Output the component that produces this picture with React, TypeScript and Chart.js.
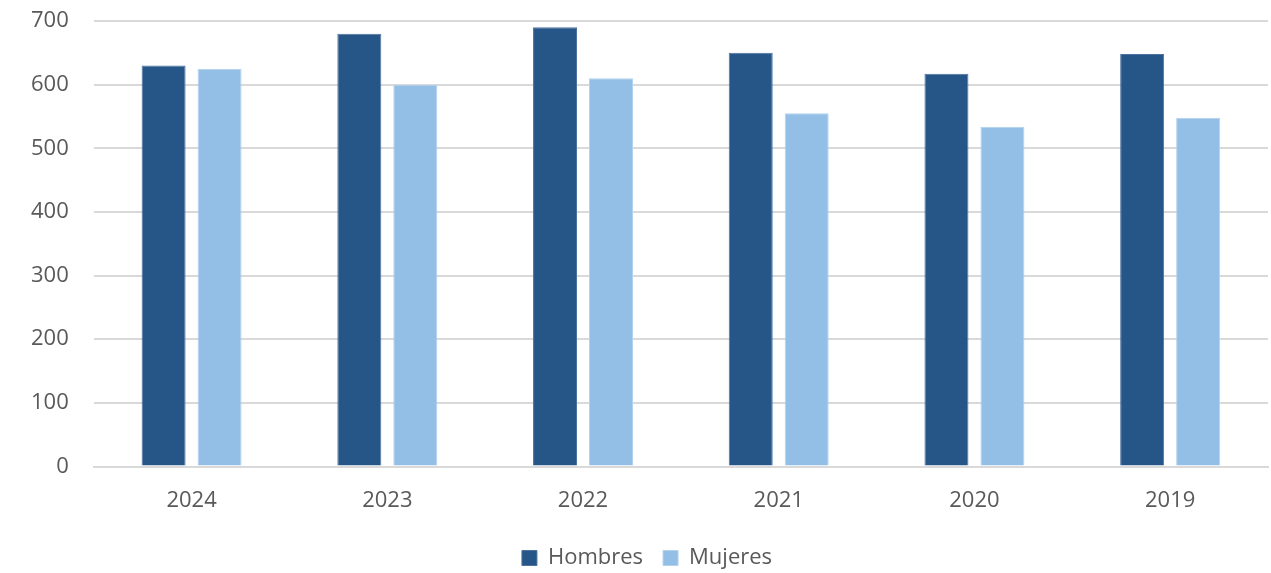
import React, { useEffect, useRef } from "react";
import { Chart, registerables } from "chart.js";

Chart.register(...registerables);

const categories = ["2024", "2023", "2022", "2021", "2020", "2019"];
const hombres = [630, 680, 690, 650, 617, 648];
const mujeres = [625, 600, 610, 555, 534, 548];
const yTicks = [0, 100, 200, 300, 400, 500, 600, 700];

export default function App() {
  const ref = useRef<HTMLCanvasElement | null>(null);
  useEffect(() => {
    document.body.style.margin = "0";
    const ctx = ref.current!;
    const family = "'Open Sans', 'Noto Sans', sans-serif";
    const font = { family, size: 22 };
    const chart = new Chart(ctx, {
      type: "bar",
      data: {
        labels: categories,
        datasets: [
          {
            label: "Hombres",
            data: hombres,
            backgroundColor: "#265687",
            borderColor: "#4c73a0",
            borderWidth: 1,
            categoryPercentage: 0.572,
            barPercentage: 0.786,
          },
          {
            label: "Mujeres",
            data: mujeres,
            backgroundColor: "#93BEE6",
            borderColor: "#b3d2ef",
            borderWidth: 1,
            categoryPercentage: 0.572,
            barPercentage: 0.786,
          },
        ],
      },
      options: {
        animation: false,
        responsive: false,
        maintainAspectRatio: false,
        layout: { padding: { left: 26, right: 3, top: 21, bottom: -6 } },
        plugins: {
          tooltip: { enabled: false },
          legend: {
            position: "bottom",
            labels: {
              boxWidth: 15,
              boxHeight: 15,
              padding: 20,
              color: "#595959",
              font,
            },
          },
        },
        scales: {
          x: {
            grid: { display: false },
            border: { display: true, color: "#d9d9d9", width: 2 },
            ticks: { color: "#595959", font: { family, size: 22, lineHeight: 0.84 }, padding: 17 },
          },
          y: {
            min: 0,
            max: 700,
            afterBuildTicks: (axis: any) => {
              axis.ticks = yTicks.map((v) => ({ value: v }));
            },
            grid: {
              color: "#d9d9d9",
              lineWidth: 2,
              drawTicks: true,
              tickLength: 20,
              tickColor: "rgba(0,0,0,0)",
            },
            border: { display: false },
            ticks: { color: "#595959", font, padding: 5 },
          },
        },
      },
    });
    return () => chart.destroy();
  }, []);
  return <canvas ref={ref} width={1271} height={573} style={{ display: "block" }} />;
}
